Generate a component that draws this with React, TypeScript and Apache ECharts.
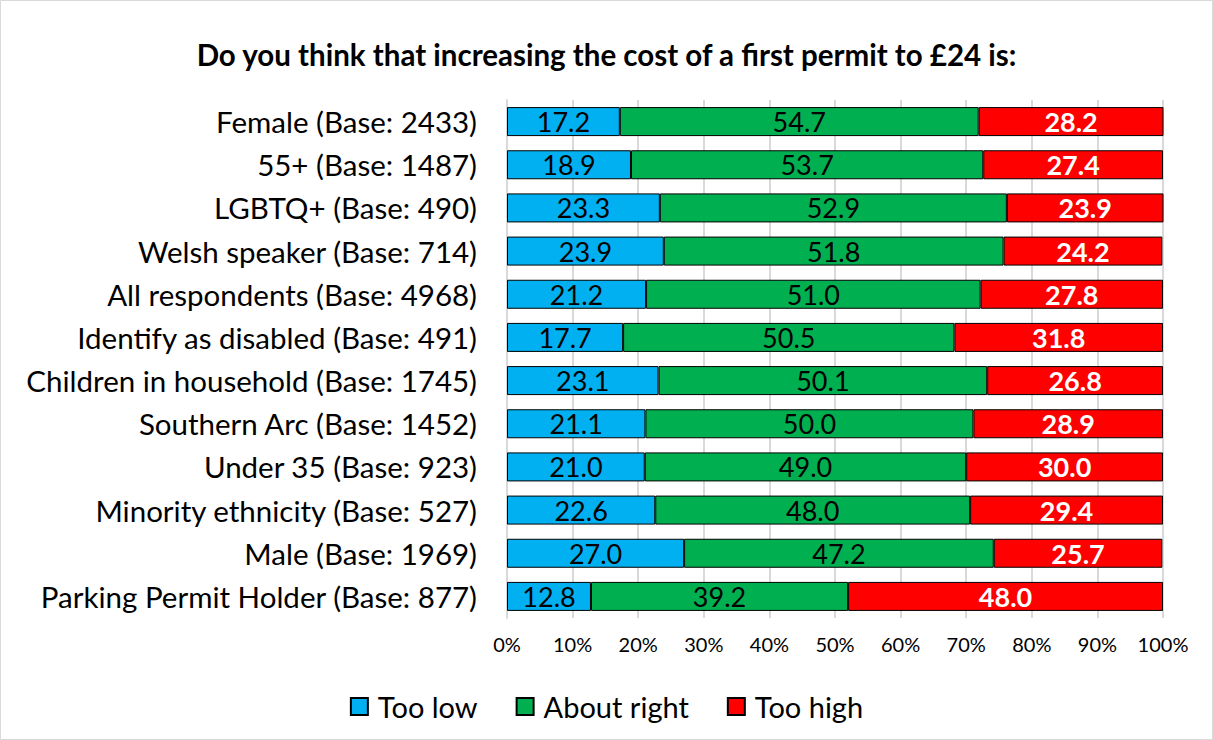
import React, { useEffect, useRef } from "react";
import * as echarts from "echarts";

const categories = [
  "Female (Base: 2433)",
  "55+ (Base: 1487)",
  "LGBTQ+ (Base: 490)",
  "Welsh speaker (Base: 714)",
  "All respondents (Base: 4968)",
  "Identify as disabled (Base: 491)",
  "Children in household (Base: 1745)",
  "Southern Arc (Base: 1452)",
  "Under 35 (Base: 923)",
  "Minority ethnicity (Base: 527)",
  "Male (Base: 1969)",
  "Parking Permit Holder (Base: 877)",
];
const tooLow = [17.2, 18.9, 23.3, 23.9, 21.2, 17.7, 23.1, 21.1, 21.0, 22.6, 27.0, 12.8];
const aboutRight = [54.7, 53.7, 52.9, 51.8, 51.0, 50.5, 50.1, 50.0, 49.0, 48.0, 47.2, 39.2];
const tooHigh = [28.2, 27.4, 23.9, 24.2, 27.8, 31.8, 26.8, 28.9, 30.0, 29.4, 25.7, 48.0];

const FONT = "Lato, 'Open Sans', sans-serif";

export default function App() {
  const ref = useRef<HTMLDivElement>(null);
  useEffect(() => {
    const chart = echarts.init(ref.current!, null, { renderer: "svg" });
    const mk = (name: string, data: number[], color: string, bold: boolean) => ({
      name,
      type: "bar",
      stack: "total",
      data,
      barWidth: 29,
      itemStyle: { color, borderColor: "#000", borderWidth: 1 },
      label: {
        show: true,
        position: "inside",
        formatter: (p: any) => p.value.toFixed(1),
        color: bold ? "#fff" : "#000",
        fontWeight: bold ? "bold" : "normal",
        fontSize: 27,
        fontFamily: FONT,
      },
    });
    chart.setOption({
      animation: false,
      backgroundColor: "#fff",
      title: {
        text: "Do you think that increasing the cost of a first permit to £24 is:",
        left: "center",
        top: 34,
        textStyle: { fontSize: 29.5, fontWeight: "bold", fontFamily: FONT, color: "#000" },
      },
      graphic: [
        {
          type: "rect",
          shape: { x: 0.5, y: 0.5, width: 1212, height: 739 },
          style: { fill: "none", stroke: "#d9d9d9", lineWidth: 1 },
          silent: true,
        },
      ],
      legend: {
        bottom: 14,
        left: "center",
        itemWidth: 17,
        itemHeight: 17,
        itemGap: 38,
        icon: "rect",
        textStyle: {
          fontSize: 29,
          fontFamily: FONT,
          color: "#000",
          padding: [0, 0, 0, 5],
        },
        data: ["Too low", "About right", "Too high"],
      },
      grid: { left: 507, right: 50, top: 100, bottom: 122 },
      xAxis: {
        type: "value",
        min: 0,
        max: 100,
        interval: 10,
        axisLabel: {
          formatter: "{value}%",
          fontSize: 20,
          fontFamily: FONT,
          color: "#000",
          margin: 16,
        },
        splitLine: { show: true, lineStyle: { color: "#d9d9d9", width: 2 } },
        axisLine: { show: false },
        axisTick: { show: false },
      },
      yAxis: {
        type: "category",
        data: categories,
        inverse: true,
        axisLabel: { fontSize: 29.5, fontFamily: FONT, color: "#000", margin: 30 },
        axisLine: { show: true, lineStyle: { color: "#d9d9d9", width: 2 } },
        axisTick: { show: false },
      },
      series: [
        mk("Too low", tooLow, "#00b0f0", false),
        mk("About right", aboutRight, "#00b050", false),
        mk("Too high", tooHigh, "#ff0000", true),
      ],
    });
    return () => chart.dispose();
  }, []);
  return (
    <div
      ref={ref}
      style={{ position: "fixed", left: 0, top: 0, width: 1213, height: 740 }}
    />
  );
}
